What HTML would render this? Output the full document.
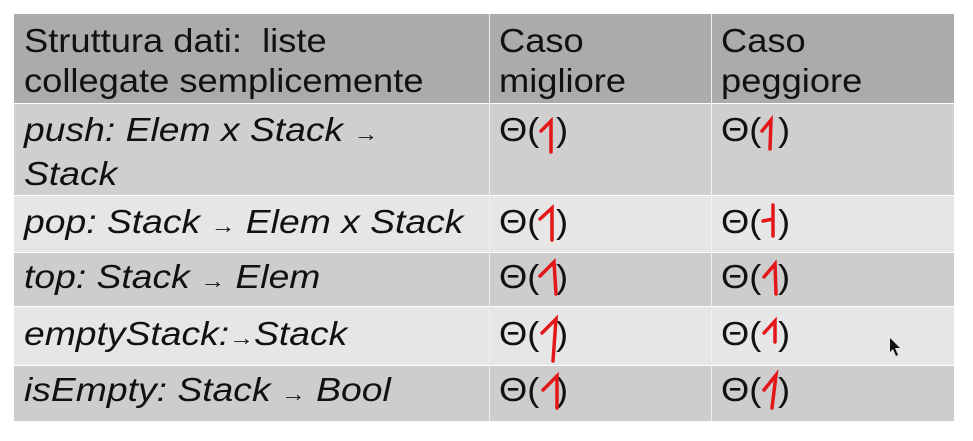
<!DOCTYPE html>
<html><head><meta charset="utf-8"><style>
body{margin:0;width:973px;height:441px;background:#fff;position:relative;overflow:hidden;font-family:"Liberation Sans",sans-serif;color:#111}
.r{position:absolute;left:14px;width:940px}
.v{position:absolute;top:14px;height:407px;width:1px;background:#f0f0f0}
.t{position:absolute;font-size:33px;line-height:40px;white-space:nowrap;transform-origin:0 0;transform:scaleX(1.1)}
.it{transform:scaleX(1.13);font-style:italic}
.a{font-size:22px}
svg{position:absolute;left:0;top:0}
</style></head><body>
<div class="r" style="top:14px;height:89px;background:#ababab"></div>
<div class="r" style="top:104px;height:91px;background:#cfcfcf"></div>
<div class="r" style="top:196px;height:56px;background:#e6e6e6"></div>
<div class="r" style="top:253px;height:53px;background:#cdcdcd"></div>
<div class="r" style="top:307px;height:58px;background:#e6e6e6"></div>
<div class="r" style="top:366px;height:55px;background:#cdcdcd"></div>
<div class="v" style="left:489px"></div>
<div class="v" style="left:711px"></div>

<div class="t" style="left:24px;top:21px">Struttura dati:&nbsp; liste<br>collegate semplicemente</div>
<div class="t" style="left:499px;top:21px">Caso<br>migliore</div>
<div class="t" style="left:721px;top:21px">Caso<br>peggiore</div>

<div class="t it" style="left:24px;top:110px">push: Elem x Stack <span class="a">→</span><br>Stack</div>
<div class="t it" style="left:24px;top:202px">pop: Stack <span class="a">→</span> Elem x Stack</div>
<div class="t it" style="left:24px;top:257px">top: Stack <span class="a">→</span> Elem</div>
<div class="t it" style="left:24px;top:314px">emptyStack:<span class="a">→</span>Stack</div>
<div class="t it" style="left:24px;top:370px">isEmpty: Stack <span class="a">→</span> Bool</div>

<div class="t" style="left:499px;top:110px">Θ(</div><div class="t" style="left:556px;top:110px">)</div>
<div class="t" style="left:721px;top:110px">Θ(</div><div class="t" style="left:778px;top:110px">)</div>
<div class="t" style="left:499px;top:202px">Θ(</div><div class="t" style="left:556px;top:202px">)</div>
<div class="t" style="left:721px;top:202px">Θ(</div><div class="t" style="left:778px;top:202px">)</div>
<div class="t" style="left:499px;top:257px">Θ(</div><div class="t" style="left:556px;top:257px">)</div>
<div class="t" style="left:721px;top:257px">Θ(</div><div class="t" style="left:778px;top:257px">)</div>
<div class="t" style="left:499px;top:314px">Θ(</div><div class="t" style="left:556px;top:314px">)</div>
<div class="t" style="left:721px;top:314px">Θ(</div><div class="t" style="left:778px;top:314px">)</div>
<div class="t" style="left:499px;top:370px">Θ(</div><div class="t" style="left:556px;top:370px">)</div>
<div class="t" style="left:721px;top:370px">Θ(</div><div class="t" style="left:778px;top:370px">)</div>

<svg width="973" height="441" fill="none" stroke="#e3161a" stroke-width="3.5" stroke-linecap="round">
<path d="M541 131 L551 121 L551 152"/>
<path d="M762 131 L771 120 L770 149"/>
<path d="M540 219 L552 208 L552 240"/>
<path d="M763 221 L773 219 M773 205 L773 236"/>
<path d="M540 276 L554 262 L556 294"/>
<path d="M764 277 L775 264 L776 294"/>
<path d="M542 333 L556 319 L553 361"/>
<path d="M764 333 L775 321 L775 342"/>
<path d="M543 390 L557 376 L557 408"/>
<path d="M764 390 L776 375 L772 408"/>
</svg>
<svg width="973" height="441"><path d="M890 338 L890 352 L893 349 L896 356 L898 355 L895 348 L900 348 Z" fill="#111"/></svg>
</body></html>
